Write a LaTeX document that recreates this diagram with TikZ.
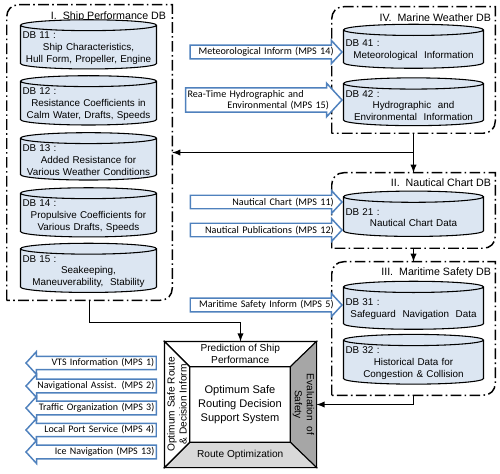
\documentclass[tikz,border=0pt]{standalone}
\usepackage{fontspec}
\setmainfont{Liberation Sans}
\newfontfamily\mpsfont{Carlito}
\usetikzlibrary{shapes,arrows,positioning,calc}

\definecolor{dbblue}{RGB}{220,230,242}
\definecolor{mpsblue}{RGB}{79,129,189}
\definecolor{evalgray}{RGB}{166,166,166}
\definecolor{routegray}{RGB}{217,217,217}

\tikzset{
  grp/.style={rectangle, inner sep=0pt},
  grpline/.style={line width=1.1pt, dash pattern=on 8pt off 2.5pt on 1.2pt off 2.5pt},
  grptitle/.style={anchor=east, inner sep=0pt, font=\fontsize{8}{10}\selectfont},
  dbcyl/.style={cylinder, shape border rotate=90, aspect=0.08, draw, line width=0.8pt,
    fill=dbblue, text width=99pt, align=center, inner xsep=1.5pt, inner ysep=0.5pt,
    font=\fontsize{7.4}{8.8}\selectfont},
  mpsin/.style={single arrow, draw=mpsblue, fill=white, line width=1.1pt,
    single arrow head extend=3.5pt, single arrow tip angle=95, inner xsep=1pt,
    inner ysep=1.2pt, text width=106pt, align=right, anchor=tip,
    font=\mpsfont\fontsize{7.6}{8.2}\selectfont},
  mpsout/.style={mpsin, shape border rotate=180, text width=90pt,
    font=\mpsfont\fontsize{7.5}{8.2}\selectfont},
  link/.style={line width=1.1pt, -latex},
  panel/.style={draw, line width=0.8pt},
}

\newcommand{\dblabel}[2]{\makebox[\hsize][l]{#1 :}\\#2}
\newcommand{\dbgroup}[1]{%
  \draw[grpline] (#1.south west) -- ($(#1.north west)+(0,12)$)
    .. controls ($(#1.north west)+(0,5)$) and ($(#1.north west)+(5,0)$) .. ($(#1.north west)+(12,0)$)
    -- (#1.north east) -- ($(#1.south east)+(0,-12)$)
    .. controls ($(#1.south east)+(0,-5)$) and ($(#1.south east)+(-5,0)$) .. ($(#1.south east)+(-12,0)$)
    -- cycle;}

\begin{document}
\begin{tikzpicture}[x=0.75pt, y=-0.75pt]
    \useasboundingbox (0,0) rectangle (500,474);

    % I. Ship performance DB
    \node[grp, minimum width=123.75pt, minimum height=221.25pt] (shipdb) at (89.5,152.5) {};
    \dbgroup{shipdb}
    \node[grptitle] at ($(shipdb.north east)+(-6,12)$) {I.\ \ Ship Performance DB};
    \node[dbcyl] (db11) at (88.5,48) {\dblabel{DB 11}{Ship Characteristics,\\Hull Form, Propeller, Engine}};
    \node[dbcyl] (db12) at (88.5,104) {\dblabel{DB 12}{Resistance Coefficients in\\Calm Water, Drafts, Speeds}};
    \node[dbcyl] (db13) at (88.5,160) {\dblabel{DB 13}{Added Resistance for\\Various Weather Conditions}};
    \node[dbcyl] (db14) at (88.5,216) {\dblabel{DB 14}{Propulsive Coefficients for\\Various Drafts, Speeds}};
    \node[dbcyl] (db15) at (88.5,271.5) {\dblabel{DB 15}{Seakeeping,\\Maneuverability,\ \ Stability}};

    % IV. Marine weather DB
    \node[grp, minimum width=122.25pt, minimum height=94.5pt] (weatherdb) at (413.5,70) {};
    \dbgroup{weatherdb}
    \node[grptitle] at ($(weatherdb.north east)+(-4,11)$) {IV.\ \ Marine Weather DB};
    \node[dbcyl, text width=102pt, minimum height=33pt] (db41) at (413.5,50) {\dblabel{DB 41}{Meteorological\ \ Information}};
    \node[dbcyl, text width=102pt, minimum height=34pt] (db42) at (413.5,105.5) {\dblabel{DB 42}{Hydrographic\ \ and\\Environmental\ \ Information}};

    % II. Nautical chart DB
    \node[grp, minimum width=122.25pt, minimum height=56.25pt] (chartdb) at (413.5,210.5) {};
    \dbgroup{chartdb}
    \node[grptitle] at ($(chartdb.north east)+(-4,10)$) {II.\ \ Nautical Chart DB};
    \node[dbcyl, text width=102pt, minimum height=34pt] (db21) at (413.5,217.5) {\dblabel{DB 21}{Nautical Chart Data}};

    % III. Maritime safety DB
    \node[grp, minimum width=122.25pt, minimum height=99.75pt] (safetydb) at (413.5,328.5) {};
    \dbgroup{safetydb}
    \node[grptitle] at ($(safetydb.north east)+(-4,11)$) {III.\ \ Maritime Safety DB};
    \node[dbcyl, text width=102pt, minimum height=36pt] (db31) at (413.5,309) {\dblabel{DB 31}{Safeguard\ \ Navigation\ \ Data}};
    \node[dbcyl, text width=102pt] (db32) at (413.5,363) {\dblabel{DB 32}{Historical Data for\\Congestion \& Collision}};

    % Incoming services
    \node[mpsin] (mps14) at (343,52) {Meteorological Inform (MPS 14)};
    \node[mpsin] (mps15) at (343,100) {\makebox[\hsize][l]{Rea-Time Hydrographic and}\\Environmental (MPS 15)};
    \node[mpsin] (mps11) at (343,202) {Nautical Chart (MPS 11)};
    \node[mpsin] (mps12) at (343,230) {Nautical Publications (MPS 12)};
    \node[mpsin] (mps5) at (343,305) {Maritime Safety Inform (MPS 5)};

    % Decision support system
    \node[panel, minimum width=113.25pt, minimum height=93.75pt] (osr) at (240.5,404.5) {};
    \node[minimum width=75pt, minimum height=56.25pt, inner sep=0pt] (core) at (240,404.5) {};
    \filldraw[panel, fill=white] (osr.north west) -- (osr.north east) -- (core.north east) -- (core.north west) -- cycle;
    \filldraw[panel, fill=evalgray] (osr.north east) -- (osr.south east) -- (core.south east) -- (core.north east) -- cycle;
    \filldraw[panel, fill=routegray] (osr.south east) -- (osr.south west) -- (core.south west) -- (core.south east) -- cycle;
    \filldraw[panel, fill=white] (osr.south west) -- (osr.north west) -- (core.north west) -- (core.south west) -- cycle;
    \node[align=center, font=\fontsize{8.3}{10.3}\selectfont] at (core) {Optimum Safe\\Routing Decision\\Support System};
    \node[align=center, font=\fontsize{7.6}{9}\selectfont] (predict) at ($(osr.north)!0.5!(core.north)$) {Prediction of Ship\\Performance};
    \node[align=center, rotate=-90, font=\fontsize{7.6}{9}\selectfont] (evalsafe) at ($(osr.east)!0.5!(core.east)$) {Evaluation\ \ of\\Safety};
    \node[font=\fontsize{7.6}{9}\selectfont] (routeopt) at ($(osr.south)!0.5!(core.south)$) {Route Optimization};
    \node[align=center, rotate=90, font=\fontsize{7.6}{9}\selectfont] (decision) at ($(osr.west)!0.5!(core.west)$) {Optimum Safe Route\\\& Decision Inform};

    % Outgoing services
    \node[mpsout] (mps1) at (25,363) {VTS Information (MPS 1)};
    \node[mpsout] (mps2) at (25,386) {Navigational Assist. (MPS 2)};
    \node[mpsout] (mps3) at (25,408) {Traffic Organization (MPS 3)};
    \node[mpsout] (mps4) at (25,430) {Local Port Service (MPS 4)};
    \node[mpsout] (mps13) at (25,452) {Ice Navigation (MPS 13)};

    % Links
    \coordinate (split) at (weatherdb.south |- shipdb.east);
    \draw[link] (weatherdb.south) -- (chartdb.north);
    \draw[link] (split) -- (shipdb.east);
    \draw[link] (chartdb.south) -- (safetydb.north);
    \draw[link] (shipdb.south) -- ++(0,22) -| (osr.north);
    \draw[link] (safetydb.south) |- (osr.east);
\end{tikzpicture}
\end{document}
